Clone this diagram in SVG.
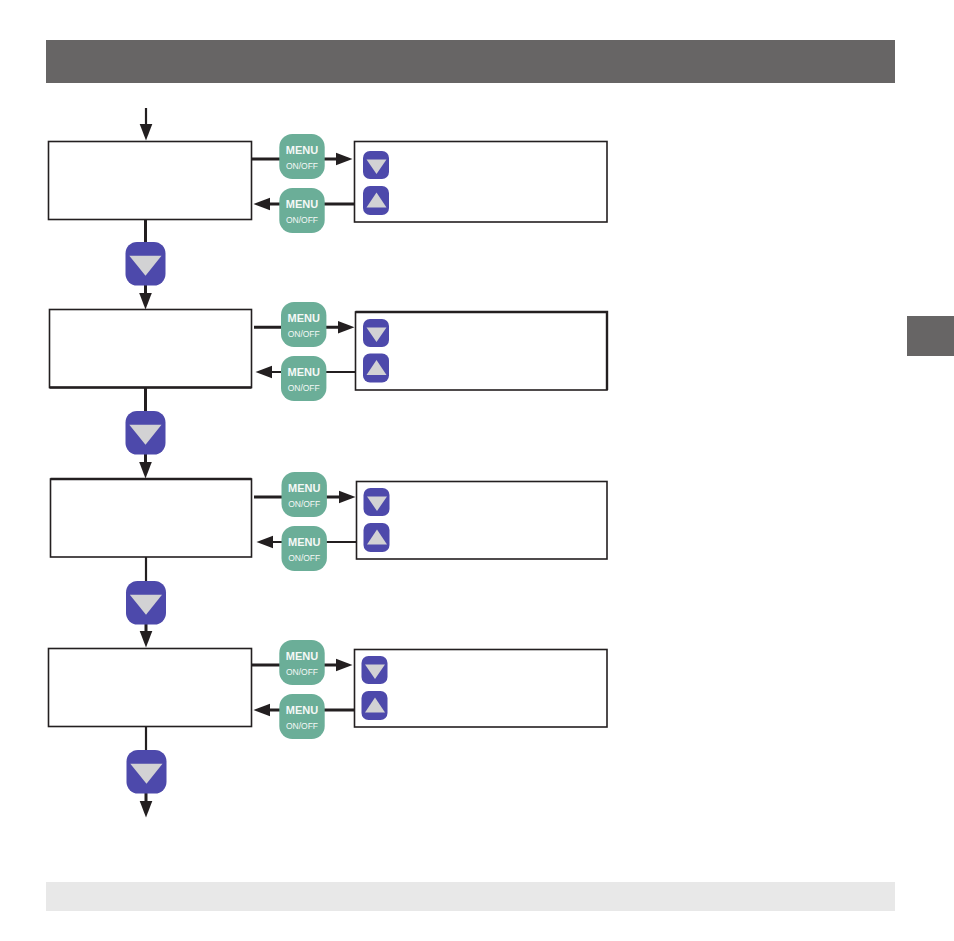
<svg xmlns="http://www.w3.org/2000/svg" width="954" height="941" viewBox="0 0 954 941">
<defs>
<style>
.box{fill:#fff;stroke:#231f20;stroke-width:1.6}
.edge{fill:none;stroke:#231f20;stroke-width:2.4}
.line{fill:none;stroke:#231f20;stroke-width:3}
.thin{fill:none;stroke:#231f20;stroke-width:2.2}
.menu{fill:#6bae98}
.m1{font:bold 11px "Liberation Sans",Arial,sans-serif;fill:#f4f8f6;text-anchor:middle}
.m2{font:8.5px "Liberation Sans",Arial,sans-serif;fill:#f4f8f6;text-anchor:middle}
.btn{fill:#4d49ab}
.tri{fill:#d2d2d4}
.band{fill:#676565}
.foot{fill:#e8e8e8}
</style>
<marker id="head" markerUnits="userSpaceOnUse" markerWidth="17" markerHeight="14" refX="0" refY="7" orient="auto">
<path d="M0,0.700 L16.500,7 L0,13.300 z" fill="#231f20"/>
</marker>
<g id="bigDown"><rect class="btn" width="40" height="43.5" rx="11.500"/><path class="tri" d="M3.800,13.700 H36 L20,33.700 z"/></g>
<g id="smallDown"><rect class="btn" width="26" height="28" rx="7"/><path class="tri" d="M3.500,8.500 H23.500 L13.500,23 z"/></g>
<g id="smallUp"><rect class="btn" width="26" height="29" rx="7"/><path class="tri" d="M3.500,21.500 H23.500 L13.500,6.500 z"/></g>
<g id="menuBody"><rect class="menu" width="45.400" height="45" rx="13"/></g>
</defs>
<rect width="954" height="941" fill="#fff"/>
<rect id="header" class="band" x="46" y="40" width="849" height="43"/>
<rect id="tab" class="band" x="907" y="316" width="47" height="40"/>
<rect id="footer" class="foot" x="46" y="882" width="849" height="29"/>

<g id="connectors">
<path class="thin" d="M146,108 V124" marker-end="url(#head)"/>
<path class="line" d="M252,159 H336" marker-end="url(#head)"/>
<path class="line" d="M354,204 H270" marker-end="url(#head)"/>
<path class="line" d="M145.500,219 V270"/>
<path class="line" d="M145.500,270 V293" marker-end="url(#head)"/>

<path class="line" d="M254,327.300 H338" marker-end="url(#head)"/>
<path class="thin" d="M355.500,372 H272" marker-end="url(#head)"/>
<path class="line" d="M145.500,388 V440"/>
<path class="line" d="M145.500,440 V462" marker-end="url(#head)"/>

<path class="line" d="M254,497 H339" marker-end="url(#head)"/>
<path class="thin" d="M356.500,542 H273" marker-end="url(#head)"/>
<path class="thin" d="M146,557 V610"/>
<path class="line" d="M146,610 V631" marker-end="url(#head)"/>

<path class="line" d="M252,665 H336" marker-end="url(#head)"/>
<path class="line" d="M354,710 H270" marker-end="url(#head)"/>
<path class="thin" d="M146,726 V780"/>
<path class="line" d="M146,780 V801" marker-end="url(#head)"/>
</g>

<g id="step1"><rect class="box" x="48.500" y="141.500" width="203" height="78"/></g>
<g id="options1"><rect class="box" x="354.500" y="141.500" width="252.500" height="80.500"/>
<use href="#smallDown" x="363" y="151"/><use href="#smallUp" x="363" y="186"/></g>
<g id="menu1a"><use href="#menuBody" x="279.300" y="134"/><text class="m1" x="302" y="154">MENU</text><text class="m2" x="302" y="168.500">ON/OFF</text></g>
<g id="menu1b"><use href="#menuBody" x="279.300" y="188"/><text class="m1" x="302" y="208">MENU</text><text class="m2" x="302" y="222.500">ON/OFF</text></g>
<g id="down1"><use href="#bigDown" x="125.500" y="242"/></g>

<g id="step2"><rect class="box" x="49.500" y="309.500" width="202" height="78"/><path class="edge" d="M49.500,387.500 H251.500"/></g>
<g id="options2"><rect class="box" x="355.500" y="312" width="251.500" height="78"/><path class="edge" d="M355.500,312 H607 V390"/>
<use href="#smallDown" x="363" y="319"/><use href="#smallUp" x="363" y="353.500"/></g>
<g id="menu2a"><use href="#menuBody" x="281" y="302"/><text class="m1" x="303.700" y="322">MENU</text><text class="m2" x="303.700" y="336.500">ON/OFF</text></g>
<g id="menu2b"><use href="#menuBody" x="281" y="356"/><text class="m1" x="303.700" y="376">MENU</text><text class="m2" x="303.700" y="390.500">ON/OFF</text></g>
<g id="down2"><use href="#bigDown" x="125.500" y="411"/></g>

<g id="step3"><rect class="box" x="50.500" y="479" width="201" height="78"/><path class="edge" d="M50.500,479 H251.500"/></g>
<g id="options3"><rect class="box" x="356.500" y="481.500" width="250.500" height="77.500"/>
<use href="#smallDown" x="363.500" y="488"/><use href="#smallUp" x="363.500" y="523"/></g>
<g id="menu3a"><use href="#menuBody" x="281.500" y="472"/><text class="m1" x="304.200" y="492">MENU</text><text class="m2" x="304.200" y="506.500">ON/OFF</text></g>
<g id="menu3b"><use href="#menuBody" x="281.500" y="526"/><text class="m1" x="304.200" y="546">MENU</text><text class="m2" x="304.200" y="560.500">ON/OFF</text></g>
<g id="down3"><use href="#bigDown" x="126" y="581"/></g>

<g id="step4"><rect class="box" x="48.500" y="648.500" width="203" height="78"/></g>
<g id="options4"><rect class="box" x="354.500" y="649.500" width="252.500" height="77.500"/>
<use href="#smallDown" x="361.500" y="656"/><use href="#smallUp" x="361.500" y="691"/></g>
<g id="menu4a"><use href="#menuBody" x="279.300" y="640"/><text class="m1" x="302" y="660">MENU</text><text class="m2" x="302" y="674.500">ON/OFF</text></g>
<g id="menu4b"><use href="#menuBody" x="279.300" y="694"/><text class="m1" x="302" y="714">MENU</text><text class="m2" x="302" y="728.500">ON/OFF</text></g>
<g id="down4"><use href="#bigDown" x="126.500" y="750"/></g>
</svg>
